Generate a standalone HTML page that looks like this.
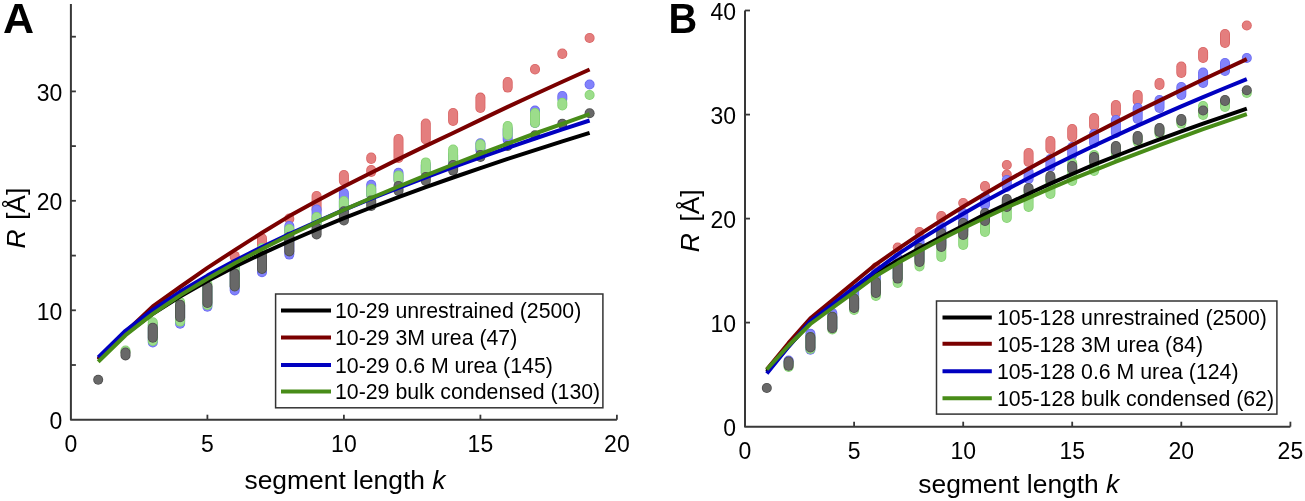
<!DOCTYPE html>
<html><head><meta charset="utf-8"><style>
html,body{margin:0;padding:0;background:#fff;width:1305px;height:501px;overflow:hidden;}
body{position:relative;font-family:'Liberation Sans', sans-serif;}
text{filter:grayscale(1);}
</style></head><body>
<svg width="1305" height="501" viewBox="0 0 1305 501" style="position:absolute;left:0;top:0;font-family:'Liberation Sans', sans-serif;filter:blur(0.4px)">
<rect width="1305" height="501" fill="#fff"/>
<text x="3.0" y="33.3" font-size="43" font-weight="bold">A</text>
<text transform="translate(668.4,33.3) scale(0.915,1)" font-size="43.4" font-weight="bold">B</text>
<line x1="234.7" y1="255.9" x2="234.7" y2="257.0" stroke="#D96464" stroke-width="10.0" stroke-linecap="round"/><line x1="234.7" y1="255.9" x2="234.7" y2="257.0" stroke="#E47E7E" stroke-width="8.4" stroke-linecap="round"/>
<line x1="262.0" y1="238.3" x2="262.0" y2="245.0" stroke="#D96464" stroke-width="10.0" stroke-linecap="round"/><line x1="262.0" y1="238.3" x2="262.0" y2="245.0" stroke="#E47E7E" stroke-width="8.4" stroke-linecap="round"/>
<line x1="289.3" y1="218.6" x2="289.3" y2="219.0" stroke="#D96464" stroke-width="10.0" stroke-linecap="round"/><line x1="289.3" y1="218.6" x2="289.3" y2="219.0" stroke="#E47E7E" stroke-width="8.4" stroke-linecap="round"/>
<line x1="316.6" y1="196.0" x2="316.6" y2="209.5" stroke="#D96464" stroke-width="10.0" stroke-linecap="round"/><line x1="316.6" y1="196.0" x2="316.6" y2="209.5" stroke="#E47E7E" stroke-width="8.4" stroke-linecap="round"/>
<line x1="343.9" y1="175.0" x2="343.9" y2="181.0" stroke="#D96464" stroke-width="10.0" stroke-linecap="round"/><line x1="343.9" y1="175.0" x2="343.9" y2="181.0" stroke="#E47E7E" stroke-width="8.4" stroke-linecap="round"/>
<line x1="371.2" y1="170.0" x2="371.2" y2="172.0" stroke="#D96464" stroke-width="10.0" stroke-linecap="round"/><line x1="371.2" y1="170.0" x2="371.2" y2="172.0" stroke="#E47E7E" stroke-width="8.4" stroke-linecap="round"/>
<line x1="398.5" y1="139.0" x2="398.5" y2="158.0" stroke="#D96464" stroke-width="10.0" stroke-linecap="round"/><line x1="398.5" y1="139.0" x2="398.5" y2="158.0" stroke="#E47E7E" stroke-width="8.4" stroke-linecap="round"/>
<line x1="425.8" y1="123.5" x2="425.8" y2="139.5" stroke="#D96464" stroke-width="10.0" stroke-linecap="round"/><line x1="425.8" y1="123.5" x2="425.8" y2="139.5" stroke="#E47E7E" stroke-width="8.4" stroke-linecap="round"/>
<line x1="453.1" y1="113.0" x2="453.1" y2="121.0" stroke="#D96464" stroke-width="10.0" stroke-linecap="round"/><line x1="453.1" y1="113.0" x2="453.1" y2="121.0" stroke="#E47E7E" stroke-width="8.4" stroke-linecap="round"/>
<line x1="480.4" y1="97.6" x2="480.4" y2="108.0" stroke="#D96464" stroke-width="10.0" stroke-linecap="round"/><line x1="480.4" y1="97.6" x2="480.4" y2="108.0" stroke="#E47E7E" stroke-width="8.4" stroke-linecap="round"/>
<line x1="507.7" y1="82.0" x2="507.7" y2="87.6" stroke="#D96464" stroke-width="10.0" stroke-linecap="round"/><line x1="507.7" y1="82.0" x2="507.7" y2="87.6" stroke="#E47E7E" stroke-width="8.4" stroke-linecap="round"/>
<line x1="535.0" y1="69.0" x2="535.0" y2="69.5" stroke="#D96464" stroke-width="10.0" stroke-linecap="round"/><line x1="535.0" y1="69.0" x2="535.0" y2="69.5" stroke="#E47E7E" stroke-width="8.4" stroke-linecap="round"/>
<line x1="562.3" y1="53.5" x2="562.3" y2="54.0" stroke="#D96464" stroke-width="10.0" stroke-linecap="round"/><line x1="562.3" y1="53.5" x2="562.3" y2="54.0" stroke="#E47E7E" stroke-width="8.4" stroke-linecap="round"/>
<circle cx="589.6" cy="38.0" r="5.0" fill="#D96464"/><circle cx="589.6" cy="38.0" r="4.2" fill="#E47E7E"/>
<line x1="371.2" y1="157.5" x2="371.2" y2="159.0" stroke="#D96464" stroke-width="10.0" stroke-linecap="round"/><line x1="371.2" y1="157.5" x2="371.2" y2="159.0" stroke="#E47E7E" stroke-width="8.4" stroke-linecap="round"/>
<line x1="152.8" y1="325.0" x2="152.8" y2="342.5" stroke="#6A6AF0" stroke-width="10.0" stroke-linecap="round"/><line x1="152.8" y1="325.0" x2="152.8" y2="342.5" stroke="#8282FB" stroke-width="8.4" stroke-linecap="round"/>
<line x1="180.1" y1="305.0" x2="180.1" y2="323.8" stroke="#6A6AF0" stroke-width="10.0" stroke-linecap="round"/><line x1="180.1" y1="305.0" x2="180.1" y2="323.8" stroke="#8282FB" stroke-width="8.4" stroke-linecap="round"/>
<line x1="207.4" y1="287.0" x2="207.4" y2="306.7" stroke="#6A6AF0" stroke-width="10.0" stroke-linecap="round"/><line x1="207.4" y1="287.0" x2="207.4" y2="306.7" stroke="#8282FB" stroke-width="8.4" stroke-linecap="round"/>
<line x1="234.7" y1="267.0" x2="234.7" y2="290.4" stroke="#6A6AF0" stroke-width="10.0" stroke-linecap="round"/><line x1="234.7" y1="267.0" x2="234.7" y2="290.4" stroke="#8282FB" stroke-width="8.4" stroke-linecap="round"/>
<line x1="262.0" y1="250.0" x2="262.0" y2="272.2" stroke="#6A6AF0" stroke-width="10.0" stroke-linecap="round"/><line x1="262.0" y1="250.0" x2="262.0" y2="272.2" stroke="#8282FB" stroke-width="8.4" stroke-linecap="round"/>
<line x1="289.3" y1="226.0" x2="289.3" y2="254.6" stroke="#6A6AF0" stroke-width="10.0" stroke-linecap="round"/><line x1="289.3" y1="226.0" x2="289.3" y2="254.6" stroke="#8282FB" stroke-width="8.4" stroke-linecap="round"/>
<line x1="316.6" y1="209.5" x2="316.6" y2="225.0" stroke="#6A6AF0" stroke-width="10.0" stroke-linecap="round"/><line x1="316.6" y1="209.5" x2="316.6" y2="225.0" stroke="#8282FB" stroke-width="8.4" stroke-linecap="round"/>
<line x1="343.9" y1="193.0" x2="343.9" y2="210.0" stroke="#6A6AF0" stroke-width="10.0" stroke-linecap="round"/><line x1="343.9" y1="193.0" x2="343.9" y2="210.0" stroke="#8282FB" stroke-width="8.4" stroke-linecap="round"/>
<line x1="371.2" y1="184.8" x2="371.2" y2="195.0" stroke="#6A6AF0" stroke-width="10.0" stroke-linecap="round"/><line x1="371.2" y1="184.8" x2="371.2" y2="195.0" stroke="#8282FB" stroke-width="8.4" stroke-linecap="round"/>
<line x1="398.5" y1="172.8" x2="398.5" y2="180.0" stroke="#6A6AF0" stroke-width="10.0" stroke-linecap="round"/><line x1="398.5" y1="172.8" x2="398.5" y2="180.0" stroke="#8282FB" stroke-width="8.4" stroke-linecap="round"/>
<line x1="425.8" y1="165.0" x2="425.8" y2="173.0" stroke="#6A6AF0" stroke-width="10.0" stroke-linecap="round"/><line x1="425.8" y1="165.0" x2="425.8" y2="173.0" stroke="#8282FB" stroke-width="8.4" stroke-linecap="round"/>
<line x1="453.1" y1="155.0" x2="453.1" y2="165.0" stroke="#6A6AF0" stroke-width="10.0" stroke-linecap="round"/><line x1="453.1" y1="155.0" x2="453.1" y2="165.0" stroke="#8282FB" stroke-width="8.4" stroke-linecap="round"/>
<line x1="480.4" y1="143.3" x2="480.4" y2="150.0" stroke="#6A6AF0" stroke-width="10.0" stroke-linecap="round"/><line x1="480.4" y1="143.3" x2="480.4" y2="150.0" stroke="#8282FB" stroke-width="8.4" stroke-linecap="round"/>
<line x1="507.7" y1="129.0" x2="507.7" y2="140.0" stroke="#6A6AF0" stroke-width="10.0" stroke-linecap="round"/><line x1="507.7" y1="129.0" x2="507.7" y2="140.0" stroke="#8282FB" stroke-width="8.4" stroke-linecap="round"/>
<line x1="535.0" y1="110.6" x2="535.0" y2="123.0" stroke="#6A6AF0" stroke-width="10.0" stroke-linecap="round"/><line x1="535.0" y1="110.6" x2="535.0" y2="123.0" stroke="#8282FB" stroke-width="8.4" stroke-linecap="round"/>
<line x1="562.3" y1="96.0" x2="562.3" y2="99.0" stroke="#6A6AF0" stroke-width="10.0" stroke-linecap="round"/><line x1="562.3" y1="96.0" x2="562.3" y2="99.0" stroke="#8282FB" stroke-width="8.4" stroke-linecap="round"/>
<circle cx="589.6" cy="84.5" r="5.0" fill="#6A6AF0"/><circle cx="589.6" cy="84.5" r="4.2" fill="#8282FB"/>
<line x1="125.5" y1="350.5" x2="125.5" y2="352.0" stroke="#84D272" stroke-width="10.0" stroke-linecap="round"/><line x1="125.5" y1="350.5" x2="125.5" y2="352.0" stroke="#9CDD8B" stroke-width="8.4" stroke-linecap="round"/>
<line x1="152.8" y1="322.2" x2="152.8" y2="341.0" stroke="#84D272" stroke-width="10.0" stroke-linecap="round"/><line x1="152.8" y1="322.2" x2="152.8" y2="341.0" stroke="#9CDD8B" stroke-width="8.4" stroke-linecap="round"/>
<line x1="180.1" y1="302.0" x2="180.1" y2="321.6" stroke="#84D272" stroke-width="10.0" stroke-linecap="round"/><line x1="180.1" y1="302.0" x2="180.1" y2="321.6" stroke="#9CDD8B" stroke-width="8.4" stroke-linecap="round"/>
<line x1="207.4" y1="284.0" x2="207.4" y2="305.0" stroke="#84D272" stroke-width="10.0" stroke-linecap="round"/><line x1="207.4" y1="284.0" x2="207.4" y2="305.0" stroke="#9CDD8B" stroke-width="8.4" stroke-linecap="round"/>
<line x1="234.7" y1="267.0" x2="234.7" y2="286.0" stroke="#84D272" stroke-width="10.0" stroke-linecap="round"/><line x1="234.7" y1="267.0" x2="234.7" y2="286.0" stroke="#9CDD8B" stroke-width="8.4" stroke-linecap="round"/>
<line x1="262.0" y1="248.0" x2="262.0" y2="268.5" stroke="#84D272" stroke-width="10.0" stroke-linecap="round"/><line x1="262.0" y1="248.0" x2="262.0" y2="268.5" stroke="#9CDD8B" stroke-width="8.4" stroke-linecap="round"/>
<line x1="289.3" y1="229.0" x2="289.3" y2="241.0" stroke="#84D272" stroke-width="10.0" stroke-linecap="round"/><line x1="289.3" y1="229.0" x2="289.3" y2="241.0" stroke="#9CDD8B" stroke-width="8.4" stroke-linecap="round"/>
<line x1="316.6" y1="217.0" x2="316.6" y2="225.0" stroke="#84D272" stroke-width="10.0" stroke-linecap="round"/><line x1="316.6" y1="217.0" x2="316.6" y2="225.0" stroke="#9CDD8B" stroke-width="8.4" stroke-linecap="round"/>
<line x1="343.9" y1="201.0" x2="343.9" y2="207.0" stroke="#84D272" stroke-width="10.0" stroke-linecap="round"/><line x1="343.9" y1="201.0" x2="343.9" y2="207.0" stroke="#9CDD8B" stroke-width="8.4" stroke-linecap="round"/>
<line x1="371.2" y1="188.7" x2="371.2" y2="195.0" stroke="#84D272" stroke-width="10.0" stroke-linecap="round"/><line x1="371.2" y1="188.7" x2="371.2" y2="195.0" stroke="#9CDD8B" stroke-width="8.4" stroke-linecap="round"/>
<line x1="398.5" y1="175.4" x2="398.5" y2="180.0" stroke="#84D272" stroke-width="10.0" stroke-linecap="round"/><line x1="398.5" y1="175.4" x2="398.5" y2="180.0" stroke="#9CDD8B" stroke-width="8.4" stroke-linecap="round"/>
<line x1="425.8" y1="162.4" x2="425.8" y2="173.0" stroke="#84D272" stroke-width="10.0" stroke-linecap="round"/><line x1="425.8" y1="162.4" x2="425.8" y2="173.0" stroke="#9CDD8B" stroke-width="8.4" stroke-linecap="round"/>
<line x1="453.1" y1="149.5" x2="453.1" y2="161.0" stroke="#84D272" stroke-width="10.0" stroke-linecap="round"/><line x1="453.1" y1="149.5" x2="453.1" y2="161.0" stroke="#9CDD8B" stroke-width="8.4" stroke-linecap="round"/>
<line x1="480.4" y1="144.3" x2="480.4" y2="147.0" stroke="#84D272" stroke-width="10.0" stroke-linecap="round"/><line x1="480.4" y1="144.3" x2="480.4" y2="147.0" stroke="#9CDD8B" stroke-width="8.4" stroke-linecap="round"/>
<line x1="507.7" y1="126.0" x2="507.7" y2="135.0" stroke="#84D272" stroke-width="10.0" stroke-linecap="round"/><line x1="507.7" y1="126.0" x2="507.7" y2="135.0" stroke="#9CDD8B" stroke-width="8.4" stroke-linecap="round"/>
<line x1="535.0" y1="113.0" x2="535.0" y2="123.0" stroke="#84D272" stroke-width="10.0" stroke-linecap="round"/><line x1="535.0" y1="113.0" x2="535.0" y2="123.0" stroke="#9CDD8B" stroke-width="8.4" stroke-linecap="round"/>
<line x1="562.3" y1="102.8" x2="562.3" y2="105.5" stroke="#84D272" stroke-width="10.0" stroke-linecap="round"/><line x1="562.3" y1="102.8" x2="562.3" y2="105.5" stroke="#9CDD8B" stroke-width="8.4" stroke-linecap="round"/>
<circle cx="589.6" cy="95.0" r="5.0" fill="#84D272"/><circle cx="589.6" cy="95.0" r="4.2" fill="#9CDD8B"/>
<circle cx="98.2" cy="379.7" r="5.0" fill="#4E4E4E"/><circle cx="98.2" cy="379.7" r="4.2" fill="#686868"/>
<line x1="125.5" y1="352.5" x2="125.5" y2="355.4" stroke="#4E4E4E" stroke-width="10.0" stroke-linecap="round"/><line x1="125.5" y1="352.5" x2="125.5" y2="355.4" stroke="#686868" stroke-width="8.4" stroke-linecap="round"/>
<line x1="152.8" y1="327.7" x2="152.8" y2="337.7" stroke="#4E4E4E" stroke-width="10.0" stroke-linecap="round"/><line x1="152.8" y1="327.7" x2="152.8" y2="337.7" stroke="#686868" stroke-width="8.4" stroke-linecap="round"/>
<line x1="180.1" y1="304.8" x2="180.1" y2="317.2" stroke="#4E4E4E" stroke-width="10.0" stroke-linecap="round"/><line x1="180.1" y1="304.8" x2="180.1" y2="317.2" stroke="#686868" stroke-width="8.4" stroke-linecap="round"/>
<line x1="207.4" y1="286.6" x2="207.4" y2="303.0" stroke="#4E4E4E" stroke-width="10.0" stroke-linecap="round"/><line x1="207.4" y1="286.6" x2="207.4" y2="303.0" stroke="#686868" stroke-width="8.4" stroke-linecap="round"/>
<line x1="234.7" y1="273.4" x2="234.7" y2="286.5" stroke="#4E4E4E" stroke-width="10.0" stroke-linecap="round"/><line x1="234.7" y1="273.4" x2="234.7" y2="286.5" stroke="#686868" stroke-width="8.4" stroke-linecap="round"/>
<line x1="262.0" y1="255.9" x2="262.0" y2="268.9" stroke="#4E4E4E" stroke-width="10.0" stroke-linecap="round"/><line x1="262.0" y1="255.9" x2="262.0" y2="268.9" stroke="#686868" stroke-width="8.4" stroke-linecap="round"/>
<line x1="289.3" y1="236.7" x2="289.3" y2="251.4" stroke="#4E4E4E" stroke-width="10.0" stroke-linecap="round"/><line x1="289.3" y1="236.7" x2="289.3" y2="251.4" stroke="#686868" stroke-width="8.4" stroke-linecap="round"/>
<line x1="316.6" y1="227.6" x2="316.6" y2="234.5" stroke="#4E4E4E" stroke-width="10.0" stroke-linecap="round"/><line x1="316.6" y1="227.6" x2="316.6" y2="234.5" stroke="#686868" stroke-width="8.4" stroke-linecap="round"/>
<line x1="343.9" y1="211.3" x2="343.9" y2="220.5" stroke="#4E4E4E" stroke-width="10.0" stroke-linecap="round"/><line x1="343.9" y1="211.3" x2="343.9" y2="220.5" stroke="#686868" stroke-width="8.4" stroke-linecap="round"/>
<line x1="371.2" y1="200.4" x2="371.2" y2="206.0" stroke="#4E4E4E" stroke-width="10.0" stroke-linecap="round"/><line x1="371.2" y1="200.4" x2="371.2" y2="206.0" stroke="#686868" stroke-width="8.4" stroke-linecap="round"/>
<line x1="398.5" y1="186.0" x2="398.5" y2="191.0" stroke="#4E4E4E" stroke-width="10.0" stroke-linecap="round"/><line x1="398.5" y1="186.0" x2="398.5" y2="191.0" stroke="#686868" stroke-width="8.4" stroke-linecap="round"/>
<line x1="425.8" y1="177.0" x2="425.8" y2="181.0" stroke="#4E4E4E" stroke-width="10.0" stroke-linecap="round"/><line x1="425.8" y1="177.0" x2="425.8" y2="181.0" stroke="#686868" stroke-width="8.4" stroke-linecap="round"/>
<line x1="453.1" y1="165.0" x2="453.1" y2="170.6" stroke="#4E4E4E" stroke-width="10.0" stroke-linecap="round"/><line x1="453.1" y1="165.0" x2="453.1" y2="170.6" stroke="#686868" stroke-width="8.4" stroke-linecap="round"/>
<line x1="480.4" y1="155.0" x2="480.4" y2="157.0" stroke="#4E4E4E" stroke-width="10.0" stroke-linecap="round"/><line x1="480.4" y1="155.0" x2="480.4" y2="157.0" stroke="#686868" stroke-width="8.4" stroke-linecap="round"/>
<circle cx="507.7" cy="146.0" r="5.0" fill="#4E4E4E"/><circle cx="507.7" cy="146.0" r="4.2" fill="#686868"/>
<circle cx="535.0" cy="135.2" r="5.0" fill="#4E4E4E"/><circle cx="535.0" cy="135.2" r="4.2" fill="#686868"/>
<circle cx="562.3" cy="123.8" r="5.0" fill="#4E4E4E"/><circle cx="562.3" cy="123.8" r="4.2" fill="#686868"/>
<circle cx="589.6" cy="113.3" r="5.0" fill="#4E4E4E"/><circle cx="589.6" cy="113.3" r="4.2" fill="#686868"/>
<polyline points="98.2,359.4 125.5,333.8 152.8,313.8 180.1,296.5 207.4,280.9 234.7,266.8 262.0,253.6 289.3,241.2 316.6,229.5 343.9,218.2 371.2,207.5 398.5,197.1 425.8,187.2 453.1,177.5 480.4,168.1 507.7,158.9 535.0,150.1 562.3,141.4 589.6,132.9" fill="none" stroke="#000000" stroke-width="4" stroke-linejoin="round" stroke-linecap="butt"/>
<polyline points="98.2,359.5 125.5,332.2 152.8,306.4 180.1,287.0 207.4,267.9 234.7,250.1 262.0,232.7 289.3,216.1 316.6,201.1 343.9,186.6 371.2,172.7 398.5,159.1 425.8,145.9 453.1,133.0 480.4,119.9 507.7,106.9 535.0,94.3 562.3,81.8 589.6,69.5" fill="none" stroke="#7A0000" stroke-width="4" stroke-linejoin="round" stroke-linecap="butt"/>
<polyline points="98.2,357.4 125.5,330.8 152.8,309.8 180.1,291.8 207.4,275.6 234.7,260.8 262.0,247.0 289.3,234.0 316.6,221.7 343.9,209.9 371.2,198.7 398.5,187.8 425.8,177.4 453.1,167.2 480.4,157.4 507.7,147.9 535.0,138.5 562.3,129.4 589.6,120.5" fill="none" stroke="#0000C0" stroke-width="4" stroke-linejoin="round" stroke-linecap="butt"/>
<polyline points="98.2,361.7 125.5,335.2 152.8,313.9 180.1,295.4 207.4,278.8 234.7,263.3 262.0,249.0 289.3,235.3 316.6,222.4 343.9,209.9 371.2,198.0 398.5,186.5 425.8,175.3 453.1,164.5 480.4,153.9 507.7,143.6 535.0,133.5 562.3,123.8 589.6,114.2" fill="none" stroke="#488C18" stroke-width="4" stroke-linejoin="round" stroke-linecap="butt"/>
<path d="M70.9 3.9 L70.9 419.7 L616.9 419.7" fill="none" stroke="#383838" stroke-width="2" stroke-linejoin="round"/>
<line x1="70.9" y1="365.0" x2="75.9" y2="365.0" stroke="#383838" stroke-width="1.8"/>
<line x1="70.9" y1="310.3" x2="75.9" y2="310.3" stroke="#383838" stroke-width="1.8"/>
<line x1="70.9" y1="255.6" x2="75.9" y2="255.6" stroke="#383838" stroke-width="1.8"/>
<line x1="70.9" y1="200.8" x2="75.9" y2="200.8" stroke="#383838" stroke-width="1.8"/>
<line x1="70.9" y1="146.1" x2="75.9" y2="146.1" stroke="#383838" stroke-width="1.8"/>
<line x1="70.9" y1="91.4" x2="75.9" y2="91.4" stroke="#383838" stroke-width="1.8"/>
<line x1="70.9" y1="36.7" x2="75.9" y2="36.7" stroke="#383838" stroke-width="1.8"/>
<line x1="207.4" y1="419.7" x2="207.4" y2="414.7" stroke="#383838" stroke-width="1.8"/>
<line x1="343.9" y1="419.7" x2="343.9" y2="414.7" stroke="#383838" stroke-width="1.8"/>
<line x1="480.4" y1="419.7" x2="480.4" y2="414.7" stroke="#383838" stroke-width="1.8"/>
<line x1="616.9" y1="419.7" x2="616.9" y2="414.7" stroke="#383838" stroke-width="1.8"/>
<text transform="translate(62.3,428.9) scale(1,1.025)" text-anchor="end" font-size="23">0</text>
<text transform="translate(62.3,319.5) scale(1,1.025)" text-anchor="end" font-size="23">10</text>
<text transform="translate(62.3,210.0) scale(1,1.025)" text-anchor="end" font-size="23">20</text>
<text transform="translate(62.3,100.6) scale(1,1.025)" text-anchor="end" font-size="23">30</text>
<text transform="translate(70.9,452.0) scale(1,1.025)" text-anchor="middle" font-size="23">0</text>
<text transform="translate(207.4,452.0) scale(1,1.025)" text-anchor="middle" font-size="23">5</text>
<text transform="translate(343.9,452.0) scale(1,1.025)" text-anchor="middle" font-size="23">10</text>
<text transform="translate(480.4,452.0) scale(1,1.025)" text-anchor="middle" font-size="23">15</text>
<text transform="translate(616.9,452.0) scale(1,1.025)" text-anchor="middle" font-size="23">20</text>
<rect x="275.6" y="294.0" width="327.3" height="113.8" fill="#fff" stroke="#333" stroke-width="1.5"/>
<line x1="281.0" y1="310.5" x2="331.0" y2="310.5" stroke="#000000" stroke-width="4"/>
<text x="335.0" y="318.3" font-size="21.3">10-29 unrestrained (2500)</text>
<line x1="281.0" y1="337.4" x2="331.0" y2="337.4" stroke="#7A0000" stroke-width="4"/>
<text x="335.0" y="345.2" font-size="21.3">10-29 3M urea (47)</text>
<line x1="281.0" y1="365.0" x2="331.0" y2="365.0" stroke="#0000C0" stroke-width="4"/>
<text x="335.0" y="372.8" font-size="21.3">10-29 0.6 M urea (145)</text>
<line x1="281.0" y1="391.4" x2="331.0" y2="391.4" stroke="#488C18" stroke-width="4"/>
<text x="335.0" y="399.2" font-size="21.3">10-29 bulk condensed (130)</text>
<text x="244.5" y="488.5" font-size="26.4">segment length <tspan font-style="italic">k</tspan></text>
<text transform="translate(25.1,248.5) rotate(-90)" font-size="26.5" word-spacing="2"><tspan font-style="italic">R</tspan> [Å]</text>
<circle cx="854.1" cy="291.0" r="5.0" fill="#D96464"/><circle cx="854.1" cy="291.0" r="4.2" fill="#E47E7E"/>
<circle cx="875.9" cy="267.5" r="5.0" fill="#D96464"/><circle cx="875.9" cy="267.5" r="4.2" fill="#E47E7E"/>
<circle cx="897.7" cy="247.5" r="5.0" fill="#D96464"/><circle cx="897.7" cy="247.5" r="4.2" fill="#E47E7E"/>
<circle cx="919.5" cy="232.0" r="5.0" fill="#D96464"/><circle cx="919.5" cy="232.0" r="4.2" fill="#E47E7E"/>
<line x1="941.3" y1="216.0" x2="941.3" y2="218.0" stroke="#D96464" stroke-width="10.0" stroke-linecap="round"/><line x1="941.3" y1="216.0" x2="941.3" y2="218.0" stroke="#E47E7E" stroke-width="8.4" stroke-linecap="round"/>
<circle cx="963.2" cy="203.0" r="5.0" fill="#D96464"/><circle cx="963.2" cy="203.0" r="4.2" fill="#E47E7E"/>
<line x1="985.0" y1="186.0" x2="985.0" y2="187.0" stroke="#D96464" stroke-width="10.0" stroke-linecap="round"/><line x1="985.0" y1="186.0" x2="985.0" y2="187.0" stroke="#E47E7E" stroke-width="8.4" stroke-linecap="round"/>
<circle cx="1006.8" cy="174.5" r="5.0" fill="#D96464"/><circle cx="1006.8" cy="174.5" r="4.2" fill="#E47E7E"/>
<line x1="1028.6" y1="153.0" x2="1028.6" y2="162.0" stroke="#D96464" stroke-width="10.0" stroke-linecap="round"/><line x1="1028.6" y1="153.0" x2="1028.6" y2="162.0" stroke="#E47E7E" stroke-width="8.4" stroke-linecap="round"/>
<line x1="1050.4" y1="141.0" x2="1050.4" y2="149.0" stroke="#D96464" stroke-width="10.0" stroke-linecap="round"/><line x1="1050.4" y1="141.0" x2="1050.4" y2="149.0" stroke="#E47E7E" stroke-width="8.4" stroke-linecap="round"/>
<line x1="1072.2" y1="129.0" x2="1072.2" y2="137.0" stroke="#D96464" stroke-width="10.0" stroke-linecap="round"/><line x1="1072.2" y1="129.0" x2="1072.2" y2="137.0" stroke="#E47E7E" stroke-width="8.4" stroke-linecap="round"/>
<line x1="1094.1" y1="118.0" x2="1094.1" y2="126.0" stroke="#D96464" stroke-width="10.0" stroke-linecap="round"/><line x1="1094.1" y1="118.0" x2="1094.1" y2="126.0" stroke="#E47E7E" stroke-width="8.4" stroke-linecap="round"/>
<line x1="1115.9" y1="105.0" x2="1115.9" y2="113.0" stroke="#D96464" stroke-width="10.0" stroke-linecap="round"/><line x1="1115.9" y1="105.0" x2="1115.9" y2="113.0" stroke="#E47E7E" stroke-width="8.4" stroke-linecap="round"/>
<line x1="1137.7" y1="95.0" x2="1137.7" y2="101.0" stroke="#D96464" stroke-width="10.0" stroke-linecap="round"/><line x1="1137.7" y1="95.0" x2="1137.7" y2="101.0" stroke="#E47E7E" stroke-width="8.4" stroke-linecap="round"/>
<line x1="1159.5" y1="83.0" x2="1159.5" y2="85.0" stroke="#D96464" stroke-width="10.0" stroke-linecap="round"/><line x1="1159.5" y1="83.0" x2="1159.5" y2="85.0" stroke="#E47E7E" stroke-width="8.4" stroke-linecap="round"/>
<line x1="1181.3" y1="66.5" x2="1181.3" y2="73.0" stroke="#D96464" stroke-width="10.0" stroke-linecap="round"/><line x1="1181.3" y1="66.5" x2="1181.3" y2="73.0" stroke="#E47E7E" stroke-width="8.4" stroke-linecap="round"/>
<line x1="1203.1" y1="52.0" x2="1203.1" y2="58.0" stroke="#D96464" stroke-width="10.0" stroke-linecap="round"/><line x1="1203.1" y1="52.0" x2="1203.1" y2="58.0" stroke="#E47E7E" stroke-width="8.4" stroke-linecap="round"/>
<line x1="1225.0" y1="34.0" x2="1225.0" y2="43.0" stroke="#D96464" stroke-width="10.0" stroke-linecap="round"/><line x1="1225.0" y1="34.0" x2="1225.0" y2="43.0" stroke="#E47E7E" stroke-width="8.4" stroke-linecap="round"/>
<circle cx="1246.8" cy="25.5" r="5.0" fill="#D96464"/><circle cx="1246.8" cy="25.5" r="4.2" fill="#E47E7E"/>
<circle cx="1006.8" cy="165.0" r="5.0" fill="#D96464"/><circle cx="1006.8" cy="165.0" r="4.2" fill="#E47E7E"/>
<line x1="788.6" y1="360.6" x2="788.6" y2="363.0" stroke="#6A6AF0" stroke-width="10.0" stroke-linecap="round"/><line x1="788.6" y1="360.6" x2="788.6" y2="363.0" stroke="#8282FB" stroke-width="8.4" stroke-linecap="round"/>
<line x1="810.4" y1="333.7" x2="810.4" y2="349.7" stroke="#6A6AF0" stroke-width="10.0" stroke-linecap="round"/><line x1="810.4" y1="333.7" x2="810.4" y2="349.7" stroke="#8282FB" stroke-width="8.4" stroke-linecap="round"/>
<line x1="832.3" y1="313.0" x2="832.3" y2="328.0" stroke="#6A6AF0" stroke-width="10.0" stroke-linecap="round"/><line x1="832.3" y1="313.0" x2="832.3" y2="328.0" stroke="#8282FB" stroke-width="8.4" stroke-linecap="round"/>
<line x1="854.1" y1="290.0" x2="854.1" y2="309.0" stroke="#6A6AF0" stroke-width="10.0" stroke-linecap="round"/><line x1="854.1" y1="290.0" x2="854.1" y2="309.0" stroke="#8282FB" stroke-width="8.4" stroke-linecap="round"/>
<line x1="875.9" y1="273.0" x2="875.9" y2="293.0" stroke="#6A6AF0" stroke-width="10.0" stroke-linecap="round"/><line x1="875.9" y1="273.0" x2="875.9" y2="293.0" stroke="#8282FB" stroke-width="8.4" stroke-linecap="round"/>
<line x1="897.7" y1="258.0" x2="897.7" y2="278.0" stroke="#6A6AF0" stroke-width="10.0" stroke-linecap="round"/><line x1="897.7" y1="258.0" x2="897.7" y2="278.0" stroke="#8282FB" stroke-width="8.4" stroke-linecap="round"/>
<line x1="919.5" y1="241.0" x2="919.5" y2="260.0" stroke="#6A6AF0" stroke-width="10.0" stroke-linecap="round"/><line x1="919.5" y1="241.0" x2="919.5" y2="260.0" stroke="#8282FB" stroke-width="8.4" stroke-linecap="round"/>
<line x1="941.3" y1="227.0" x2="941.3" y2="245.0" stroke="#6A6AF0" stroke-width="10.0" stroke-linecap="round"/><line x1="941.3" y1="227.0" x2="941.3" y2="245.0" stroke="#8282FB" stroke-width="8.4" stroke-linecap="round"/>
<line x1="963.2" y1="213.0" x2="963.2" y2="231.0" stroke="#6A6AF0" stroke-width="10.0" stroke-linecap="round"/><line x1="963.2" y1="213.0" x2="963.2" y2="231.0" stroke="#8282FB" stroke-width="8.4" stroke-linecap="round"/>
<line x1="985.0" y1="197.0" x2="985.0" y2="205.0" stroke="#6A6AF0" stroke-width="10.0" stroke-linecap="round"/><line x1="985.0" y1="197.0" x2="985.0" y2="205.0" stroke="#8282FB" stroke-width="8.4" stroke-linecap="round"/>
<line x1="1006.8" y1="180.0" x2="1006.8" y2="187.0" stroke="#6A6AF0" stroke-width="10.0" stroke-linecap="round"/><line x1="1006.8" y1="180.0" x2="1006.8" y2="187.0" stroke="#8282FB" stroke-width="8.4" stroke-linecap="round"/>
<line x1="1028.6" y1="172.0" x2="1028.6" y2="179.0" stroke="#6A6AF0" stroke-width="10.0" stroke-linecap="round"/><line x1="1028.6" y1="172.0" x2="1028.6" y2="179.0" stroke="#8282FB" stroke-width="8.4" stroke-linecap="round"/>
<line x1="1050.4" y1="159.0" x2="1050.4" y2="167.0" stroke="#6A6AF0" stroke-width="10.0" stroke-linecap="round"/><line x1="1050.4" y1="159.0" x2="1050.4" y2="167.0" stroke="#8282FB" stroke-width="8.4" stroke-linecap="round"/>
<line x1="1072.2" y1="147.0" x2="1072.2" y2="155.0" stroke="#6A6AF0" stroke-width="10.0" stroke-linecap="round"/><line x1="1072.2" y1="147.0" x2="1072.2" y2="155.0" stroke="#8282FB" stroke-width="8.4" stroke-linecap="round"/>
<line x1="1094.1" y1="134.0" x2="1094.1" y2="143.0" stroke="#6A6AF0" stroke-width="10.0" stroke-linecap="round"/><line x1="1094.1" y1="134.0" x2="1094.1" y2="143.0" stroke="#8282FB" stroke-width="8.4" stroke-linecap="round"/>
<line x1="1115.9" y1="120.0" x2="1115.9" y2="133.0" stroke="#6A6AF0" stroke-width="10.0" stroke-linecap="round"/><line x1="1115.9" y1="120.0" x2="1115.9" y2="133.0" stroke="#8282FB" stroke-width="8.4" stroke-linecap="round"/>
<line x1="1137.7" y1="108.0" x2="1137.7" y2="119.0" stroke="#6A6AF0" stroke-width="10.0" stroke-linecap="round"/><line x1="1137.7" y1="108.0" x2="1137.7" y2="119.0" stroke="#8282FB" stroke-width="8.4" stroke-linecap="round"/>
<line x1="1159.5" y1="100.0" x2="1159.5" y2="108.0" stroke="#6A6AF0" stroke-width="10.0" stroke-linecap="round"/><line x1="1159.5" y1="100.0" x2="1159.5" y2="108.0" stroke="#8282FB" stroke-width="8.4" stroke-linecap="round"/>
<line x1="1181.3" y1="87.0" x2="1181.3" y2="95.0" stroke="#6A6AF0" stroke-width="10.0" stroke-linecap="round"/><line x1="1181.3" y1="87.0" x2="1181.3" y2="95.0" stroke="#8282FB" stroke-width="8.4" stroke-linecap="round"/>
<line x1="1203.1" y1="72.5" x2="1203.1" y2="83.0" stroke="#6A6AF0" stroke-width="10.0" stroke-linecap="round"/><line x1="1203.1" y1="72.5" x2="1203.1" y2="83.0" stroke="#8282FB" stroke-width="8.4" stroke-linecap="round"/>
<line x1="1225.0" y1="63.0" x2="1225.0" y2="71.0" stroke="#6A6AF0" stroke-width="10.0" stroke-linecap="round"/><line x1="1225.0" y1="63.0" x2="1225.0" y2="71.0" stroke="#8282FB" stroke-width="8.4" stroke-linecap="round"/>
<circle cx="1246.8" cy="58.0" r="5.0" fill="#6A6AF0"/><circle cx="1246.8" cy="58.0" r="4.2" fill="#8282FB"/>
<line x1="788.6" y1="363.0" x2="788.6" y2="367.0" stroke="#84D272" stroke-width="10.0" stroke-linecap="round"/><line x1="788.6" y1="363.0" x2="788.6" y2="367.0" stroke="#9CDD8B" stroke-width="8.4" stroke-linecap="round"/>
<line x1="810.4" y1="337.0" x2="810.4" y2="349.0" stroke="#84D272" stroke-width="10.0" stroke-linecap="round"/><line x1="810.4" y1="337.0" x2="810.4" y2="349.0" stroke="#9CDD8B" stroke-width="8.4" stroke-linecap="round"/>
<line x1="832.3" y1="317.0" x2="832.3" y2="329.4" stroke="#84D272" stroke-width="10.0" stroke-linecap="round"/><line x1="832.3" y1="317.0" x2="832.3" y2="329.4" stroke="#9CDD8B" stroke-width="8.4" stroke-linecap="round"/>
<line x1="854.1" y1="298.0" x2="854.1" y2="310.0" stroke="#84D272" stroke-width="10.0" stroke-linecap="round"/><line x1="854.1" y1="298.0" x2="854.1" y2="310.0" stroke="#9CDD8B" stroke-width="8.4" stroke-linecap="round"/>
<line x1="875.9" y1="282.0" x2="875.9" y2="296.0" stroke="#84D272" stroke-width="10.0" stroke-linecap="round"/><line x1="875.9" y1="282.0" x2="875.9" y2="296.0" stroke="#9CDD8B" stroke-width="8.4" stroke-linecap="round"/>
<line x1="897.7" y1="264.0" x2="897.7" y2="283.0" stroke="#84D272" stroke-width="10.0" stroke-linecap="round"/><line x1="897.7" y1="264.0" x2="897.7" y2="283.0" stroke="#9CDD8B" stroke-width="8.4" stroke-linecap="round"/>
<line x1="919.5" y1="250.0" x2="919.5" y2="266.5" stroke="#84D272" stroke-width="10.0" stroke-linecap="round"/><line x1="919.5" y1="250.0" x2="919.5" y2="266.5" stroke="#9CDD8B" stroke-width="8.4" stroke-linecap="round"/>
<line x1="941.3" y1="241.0" x2="941.3" y2="257.0" stroke="#84D272" stroke-width="10.0" stroke-linecap="round"/><line x1="941.3" y1="241.0" x2="941.3" y2="257.0" stroke="#9CDD8B" stroke-width="8.4" stroke-linecap="round"/>
<line x1="963.2" y1="227.0" x2="963.2" y2="245.0" stroke="#84D272" stroke-width="10.0" stroke-linecap="round"/><line x1="963.2" y1="227.0" x2="963.2" y2="245.0" stroke="#9CDD8B" stroke-width="8.4" stroke-linecap="round"/>
<line x1="985.0" y1="217.0" x2="985.0" y2="232.0" stroke="#84D272" stroke-width="10.0" stroke-linecap="round"/><line x1="985.0" y1="217.0" x2="985.0" y2="232.0" stroke="#9CDD8B" stroke-width="8.4" stroke-linecap="round"/>
<line x1="1006.8" y1="203.0" x2="1006.8" y2="218.0" stroke="#84D272" stroke-width="10.0" stroke-linecap="round"/><line x1="1006.8" y1="203.0" x2="1006.8" y2="218.0" stroke="#9CDD8B" stroke-width="8.4" stroke-linecap="round"/>
<line x1="1028.6" y1="190.0" x2="1028.6" y2="207.0" stroke="#84D272" stroke-width="10.0" stroke-linecap="round"/><line x1="1028.6" y1="190.0" x2="1028.6" y2="207.0" stroke="#9CDD8B" stroke-width="8.4" stroke-linecap="round"/>
<line x1="1050.4" y1="178.0" x2="1050.4" y2="194.0" stroke="#84D272" stroke-width="10.0" stroke-linecap="round"/><line x1="1050.4" y1="178.0" x2="1050.4" y2="194.0" stroke="#9CDD8B" stroke-width="8.4" stroke-linecap="round"/>
<line x1="1072.2" y1="163.0" x2="1072.2" y2="181.0" stroke="#84D272" stroke-width="10.0" stroke-linecap="round"/><line x1="1072.2" y1="163.0" x2="1072.2" y2="181.0" stroke="#9CDD8B" stroke-width="8.4" stroke-linecap="round"/>
<line x1="1094.1" y1="155.0" x2="1094.1" y2="171.0" stroke="#84D272" stroke-width="10.0" stroke-linecap="round"/><line x1="1094.1" y1="155.0" x2="1094.1" y2="171.0" stroke="#9CDD8B" stroke-width="8.4" stroke-linecap="round"/>
<line x1="1115.9" y1="147.0" x2="1115.9" y2="155.0" stroke="#84D272" stroke-width="10.0" stroke-linecap="round"/><line x1="1115.9" y1="147.0" x2="1115.9" y2="155.0" stroke="#9CDD8B" stroke-width="8.4" stroke-linecap="round"/>
<line x1="1137.7" y1="137.0" x2="1137.7" y2="142.0" stroke="#84D272" stroke-width="10.0" stroke-linecap="round"/><line x1="1137.7" y1="137.0" x2="1137.7" y2="142.0" stroke="#9CDD8B" stroke-width="8.4" stroke-linecap="round"/>
<line x1="1159.5" y1="129.0" x2="1159.5" y2="134.0" stroke="#84D272" stroke-width="10.0" stroke-linecap="round"/><line x1="1159.5" y1="129.0" x2="1159.5" y2="134.0" stroke="#9CDD8B" stroke-width="8.4" stroke-linecap="round"/>
<line x1="1181.3" y1="120.0" x2="1181.3" y2="123.6" stroke="#84D272" stroke-width="10.0" stroke-linecap="round"/><line x1="1181.3" y1="120.0" x2="1181.3" y2="123.6" stroke="#9CDD8B" stroke-width="8.4" stroke-linecap="round"/>
<line x1="1203.1" y1="106.0" x2="1203.1" y2="115.0" stroke="#84D272" stroke-width="10.0" stroke-linecap="round"/><line x1="1203.1" y1="106.0" x2="1203.1" y2="115.0" stroke="#9CDD8B" stroke-width="8.4" stroke-linecap="round"/>
<line x1="1225.0" y1="102.0" x2="1225.0" y2="107.0" stroke="#84D272" stroke-width="10.0" stroke-linecap="round"/><line x1="1225.0" y1="102.0" x2="1225.0" y2="107.0" stroke="#9CDD8B" stroke-width="8.4" stroke-linecap="round"/>
<circle cx="1246.8" cy="93.0" r="5.0" fill="#84D272"/><circle cx="1246.8" cy="93.0" r="4.2" fill="#9CDD8B"/>
<circle cx="766.8" cy="388.0" r="5.0" fill="#4E4E4E"/><circle cx="766.8" cy="388.0" r="4.2" fill="#686868"/>
<line x1="788.6" y1="361.5" x2="788.6" y2="365.8" stroke="#4E4E4E" stroke-width="10.0" stroke-linecap="round"/><line x1="788.6" y1="361.5" x2="788.6" y2="365.8" stroke="#686868" stroke-width="8.4" stroke-linecap="round"/>
<line x1="810.4" y1="337.1" x2="810.4" y2="347.5" stroke="#4E4E4E" stroke-width="10.0" stroke-linecap="round"/><line x1="810.4" y1="337.1" x2="810.4" y2="347.5" stroke="#686868" stroke-width="8.4" stroke-linecap="round"/>
<line x1="832.3" y1="316.7" x2="832.3" y2="328.2" stroke="#4E4E4E" stroke-width="10.0" stroke-linecap="round"/><line x1="832.3" y1="316.7" x2="832.3" y2="328.2" stroke="#686868" stroke-width="8.4" stroke-linecap="round"/>
<line x1="854.1" y1="298.5" x2="854.1" y2="308.0" stroke="#4E4E4E" stroke-width="10.0" stroke-linecap="round"/><line x1="854.1" y1="298.5" x2="854.1" y2="308.0" stroke="#686868" stroke-width="8.4" stroke-linecap="round"/>
<line x1="875.9" y1="282.0" x2="875.9" y2="293.0" stroke="#4E4E4E" stroke-width="10.0" stroke-linecap="round"/><line x1="875.9" y1="282.0" x2="875.9" y2="293.0" stroke="#686868" stroke-width="8.4" stroke-linecap="round"/>
<line x1="897.7" y1="264.0" x2="897.7" y2="278.6" stroke="#4E4E4E" stroke-width="10.0" stroke-linecap="round"/><line x1="897.7" y1="264.0" x2="897.7" y2="278.6" stroke="#686868" stroke-width="8.4" stroke-linecap="round"/>
<line x1="919.5" y1="248.0" x2="919.5" y2="262.0" stroke="#4E4E4E" stroke-width="10.0" stroke-linecap="round"/><line x1="919.5" y1="248.0" x2="919.5" y2="262.0" stroke="#686868" stroke-width="8.4" stroke-linecap="round"/>
<line x1="941.3" y1="233.0" x2="941.3" y2="247.0" stroke="#4E4E4E" stroke-width="10.0" stroke-linecap="round"/><line x1="941.3" y1="233.0" x2="941.3" y2="247.0" stroke="#686868" stroke-width="8.4" stroke-linecap="round"/>
<line x1="963.2" y1="223.0" x2="963.2" y2="235.0" stroke="#4E4E4E" stroke-width="10.0" stroke-linecap="round"/><line x1="963.2" y1="223.0" x2="963.2" y2="235.0" stroke="#686868" stroke-width="8.4" stroke-linecap="round"/>
<line x1="985.0" y1="213.0" x2="985.0" y2="221.0" stroke="#4E4E4E" stroke-width="10.0" stroke-linecap="round"/><line x1="985.0" y1="213.0" x2="985.0" y2="221.0" stroke="#686868" stroke-width="8.4" stroke-linecap="round"/>
<line x1="1006.8" y1="199.0" x2="1006.8" y2="207.0" stroke="#4E4E4E" stroke-width="10.0" stroke-linecap="round"/><line x1="1006.8" y1="199.0" x2="1006.8" y2="207.0" stroke="#686868" stroke-width="8.4" stroke-linecap="round"/>
<line x1="1028.6" y1="188.0" x2="1028.6" y2="191.0" stroke="#4E4E4E" stroke-width="10.0" stroke-linecap="round"/><line x1="1028.6" y1="188.0" x2="1028.6" y2="191.0" stroke="#686868" stroke-width="8.4" stroke-linecap="round"/>
<line x1="1050.4" y1="176.0" x2="1050.4" y2="180.0" stroke="#4E4E4E" stroke-width="10.0" stroke-linecap="round"/><line x1="1050.4" y1="176.0" x2="1050.4" y2="180.0" stroke="#686868" stroke-width="8.4" stroke-linecap="round"/>
<line x1="1072.2" y1="166.0" x2="1072.2" y2="169.0" stroke="#4E4E4E" stroke-width="10.0" stroke-linecap="round"/><line x1="1072.2" y1="166.0" x2="1072.2" y2="169.0" stroke="#686868" stroke-width="8.4" stroke-linecap="round"/>
<line x1="1094.1" y1="157.0" x2="1094.1" y2="161.0" stroke="#4E4E4E" stroke-width="10.0" stroke-linecap="round"/><line x1="1094.1" y1="157.0" x2="1094.1" y2="161.0" stroke="#686868" stroke-width="8.4" stroke-linecap="round"/>
<line x1="1115.9" y1="146.0" x2="1115.9" y2="151.0" stroke="#4E4E4E" stroke-width="10.0" stroke-linecap="round"/><line x1="1115.9" y1="146.0" x2="1115.9" y2="151.0" stroke="#686868" stroke-width="8.4" stroke-linecap="round"/>
<line x1="1137.7" y1="136.0" x2="1137.7" y2="140.0" stroke="#4E4E4E" stroke-width="10.0" stroke-linecap="round"/><line x1="1137.7" y1="136.0" x2="1137.7" y2="140.0" stroke="#686868" stroke-width="8.4" stroke-linecap="round"/>
<line x1="1159.5" y1="128.0" x2="1159.5" y2="132.0" stroke="#4E4E4E" stroke-width="10.0" stroke-linecap="round"/><line x1="1159.5" y1="128.0" x2="1159.5" y2="132.0" stroke="#686868" stroke-width="8.4" stroke-linecap="round"/>
<line x1="1181.3" y1="119.0" x2="1181.3" y2="121.0" stroke="#4E4E4E" stroke-width="10.0" stroke-linecap="round"/><line x1="1181.3" y1="119.0" x2="1181.3" y2="121.0" stroke="#686868" stroke-width="8.4" stroke-linecap="round"/>
<circle cx="1203.1" cy="110.5" r="5.0" fill="#4E4E4E"/><circle cx="1203.1" cy="110.5" r="4.2" fill="#686868"/>
<line x1="1225.0" y1="100.0" x2="1225.0" y2="101.0" stroke="#4E4E4E" stroke-width="10.0" stroke-linecap="round"/><line x1="1225.0" y1="100.0" x2="1225.0" y2="101.0" stroke="#686868" stroke-width="8.4" stroke-linecap="round"/>
<circle cx="1246.8" cy="90.2" r="5.0" fill="#4E4E4E"/><circle cx="1246.8" cy="90.2" r="4.2" fill="#686868"/>
<polyline points="766.8,371.6 788.6,346.1 810.4,322.6 832.3,306.2 854.1,289.8 875.9,273.3 897.7,260.4 919.5,248.4 941.3,236.9 963.2,225.7 985.0,214.4 1006.8,204.1 1028.6,193.7 1050.4,183.6 1072.2,174.0 1094.1,164.6 1115.9,156.0 1137.7,147.5 1159.5,139.4 1181.3,131.4 1203.1,123.7 1225.0,116.1 1246.8,108.7" fill="none" stroke="#000000" stroke-width="4" stroke-linejoin="round" stroke-linecap="butt"/>
<polyline points="766.8,369.5 788.6,342.9 810.4,318.3 832.3,300.3 854.1,282.3 875.9,264.3 897.7,249.2 919.5,234.4 941.3,220.4 963.2,206.8 985.0,193.7 1006.8,181.0 1028.6,168.8 1050.4,156.7 1072.2,145.0 1094.1,133.6 1115.9,122.4 1137.7,111.3 1159.5,100.6 1181.3,90.0 1203.1,79.5 1225.0,69.3 1246.8,59.1" fill="none" stroke="#7A0000" stroke-width="4" stroke-linejoin="round" stroke-linecap="butt"/>
<polyline points="766.8,373.6 788.6,346.6 810.4,321.4 832.3,304.5 854.1,287.6 875.9,270.7 897.7,254.3 919.5,240.0 941.3,226.6 963.2,213.7 985.0,201.3 1006.8,189.5 1028.6,178.0 1050.4,167.0 1072.2,156.2 1094.1,145.8 1115.9,135.6 1137.7,125.6 1159.5,115.9 1181.3,106.4 1203.1,97.1 1225.0,88.0 1246.8,79.1" fill="none" stroke="#0000C0" stroke-width="4" stroke-linejoin="round" stroke-linecap="butt"/>
<polyline points="766.8,369.5 788.6,345.5 810.4,324.0 832.3,308.0 854.1,292.1 875.9,276.0 897.7,263.1 919.5,250.9 941.3,239.2 963.2,228.2 985.0,217.7 1006.8,207.5 1028.6,197.8 1050.4,188.3 1072.2,179.2 1094.1,170.3 1115.9,161.7 1137.7,153.3 1159.5,145.1 1181.3,137.1 1203.1,129.2 1225.0,121.6 1246.8,114.1" fill="none" stroke="#488C18" stroke-width="4" stroke-linejoin="round" stroke-linecap="butt"/>
<path d="M745.0 10.5 L745.0 426.7 L1290.4 426.7" fill="none" stroke="#383838" stroke-width="2" stroke-linejoin="round"/>
<line x1="745.0" y1="322.6" x2="750.0" y2="322.6" stroke="#383838" stroke-width="1.8"/>
<line x1="745.0" y1="218.6" x2="750.0" y2="218.6" stroke="#383838" stroke-width="1.8"/>
<line x1="745.0" y1="114.6" x2="750.0" y2="114.6" stroke="#383838" stroke-width="1.8"/>
<line x1="745.0" y1="10.5" x2="750.0" y2="10.5" stroke="#383838" stroke-width="1.8"/>
<line x1="854.1" y1="426.7" x2="854.1" y2="421.7" stroke="#383838" stroke-width="1.8"/>
<line x1="963.2" y1="426.7" x2="963.2" y2="421.7" stroke="#383838" stroke-width="1.8"/>
<line x1="1072.2" y1="426.7" x2="1072.2" y2="421.7" stroke="#383838" stroke-width="1.8"/>
<line x1="1181.3" y1="426.7" x2="1181.3" y2="421.7" stroke="#383838" stroke-width="1.8"/>
<line x1="1290.4" y1="426.7" x2="1290.4" y2="421.7" stroke="#383838" stroke-width="1.8"/>
<text transform="translate(736.0,435.9) scale(1,1.025)" text-anchor="end" font-size="23">0</text>
<text transform="translate(736.0,331.8) scale(1,1.025)" text-anchor="end" font-size="23">10</text>
<text transform="translate(736.0,227.8) scale(1,1.025)" text-anchor="end" font-size="23">20</text>
<text transform="translate(736.0,123.8) scale(1,1.025)" text-anchor="end" font-size="23">30</text>
<text transform="translate(736.0,19.7) scale(1,1.025)" text-anchor="end" font-size="23">40</text>
<text transform="translate(745.0,458.5) scale(1,1.025)" text-anchor="middle" font-size="23">0</text>
<text transform="translate(854.1,458.5) scale(1,1.025)" text-anchor="middle" font-size="23">5</text>
<text transform="translate(963.2,458.5) scale(1,1.025)" text-anchor="middle" font-size="23">10</text>
<text transform="translate(1072.2,458.5) scale(1,1.025)" text-anchor="middle" font-size="23">15</text>
<text transform="translate(1181.3,458.5) scale(1,1.025)" text-anchor="middle" font-size="23">20</text>
<text transform="translate(1290.4,458.5) scale(1,1.025)" text-anchor="middle" font-size="23">25</text>
<rect x="936.5" y="301.0" width="340.4" height="113.1" fill="#fff" stroke="#333" stroke-width="1.5"/>
<line x1="942.5" y1="317.4" x2="991.8" y2="317.4" stroke="#000000" stroke-width="4"/>
<text x="997.0" y="325.2" font-size="21.3">105-128 unrestrained (2500)</text>
<line x1="942.5" y1="343.8" x2="991.8" y2="343.8" stroke="#7A0000" stroke-width="4"/>
<text x="997.0" y="351.6" font-size="21.3">105-128 3M urea (84)</text>
<line x1="942.5" y1="371.3" x2="991.8" y2="371.3" stroke="#0000C0" stroke-width="4"/>
<text x="997.0" y="379.1" font-size="21.3">105-128 0.6 M urea (124)</text>
<line x1="942.5" y1="398.3" x2="991.8" y2="398.3" stroke="#488C18" stroke-width="4"/>
<text x="997.0" y="406.1" font-size="21.3">105-128 bulk condensed (62)</text>
<text x="918.3" y="492.7" font-size="26.4">segment length <tspan font-style="italic">k</tspan></text>
<text transform="translate(699,252.2) rotate(-90)" font-size="26.5" word-spacing="4"><tspan font-style="italic">R</tspan> [Å]</text>
</svg>
</body></html>
